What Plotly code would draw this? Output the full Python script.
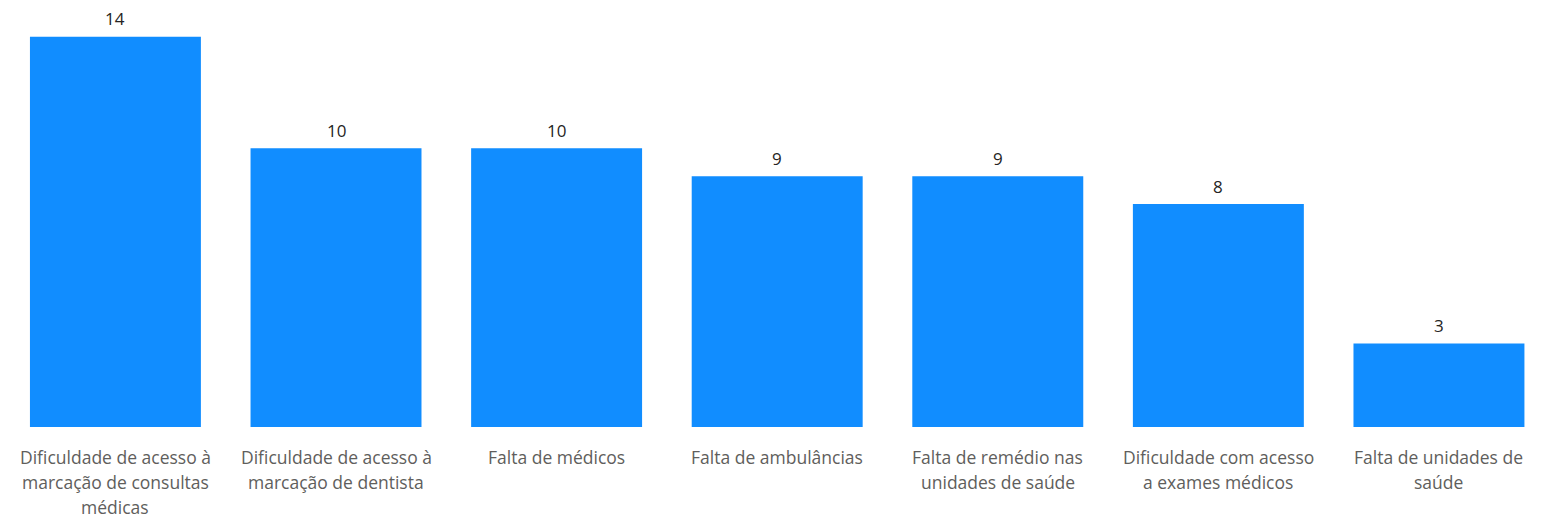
import plotly.graph_objects as go

categories = [
    "Dificuldade de acesso à marcação de consultas médicas",
    "Dificuldade de acesso à marcação de dentista",
    "Falta de médicos",
    "Falta de ambulâncias",
    "Falta de remédio nas unidades de saúde",
    "Dificuldade com acesso a exames médicos",
    "Falta de unidades de saúde",
]
label_lines = [
    ["Dificuldade de acesso à", "marcação de consultas", "médicas"],
    ["Dificuldade de acesso à", "marcação de dentista"],
    ["Falta de médicos"],
    ["Falta de ambulâncias"],
    ["Falta de remédio nas", "unidades de saúde"],
    ["Dificuldade com acesso", "a exames médicos"],
    ["Falta de unidades de", "saúde"],
]
values = [14, 10, 10, 9, 9, 8, 3]

FONT = "Open Sans, Noto Sans, sans-serif"

fig = go.Figure(go.Bar(x=categories, y=values, marker=dict(color="#118DFF", line=dict(width=0)),
                       hoverinfo="x+y"))

annotations = []
for c, v in zip(categories, values):
    annotations.append(dict(x=c, y=v, xref="x", yref="y", text=str(v), showarrow=False,
                            yanchor="middle", yshift=18, borderpad=0,
                            font=dict(family=FONT, size=17, color="#252423")))
for c, lines in zip(categories, label_lines):
    for i, ln in enumerate(lines):
        annotations.append(dict(x=c, y=0, xref="x", yref="paper", text=ln, showarrow=False,
                                yanchor="middle", yshift=-30 - 25 * i, borderpad=0,
                                font=dict(family=FONT, size=17.5, color="#605E5C")))

fig.update_layout(
    width=1545, height=519,
    margin=dict(l=0, r=0, t=1, b=100, pad=0),
    plot_bgcolor="white", paper_bgcolor="white",
    bargap=0.225,
    showlegend=False,
    annotations=annotations,
    xaxis=dict(showticklabels=False, showgrid=False, zeroline=False, showline=False, ticks="",
               range=[-0.487, 6.517]),
    yaxis=dict(range=[0, 15], visible=False, showgrid=False, zeroline=False),
)

fig.write_html("out.html")
